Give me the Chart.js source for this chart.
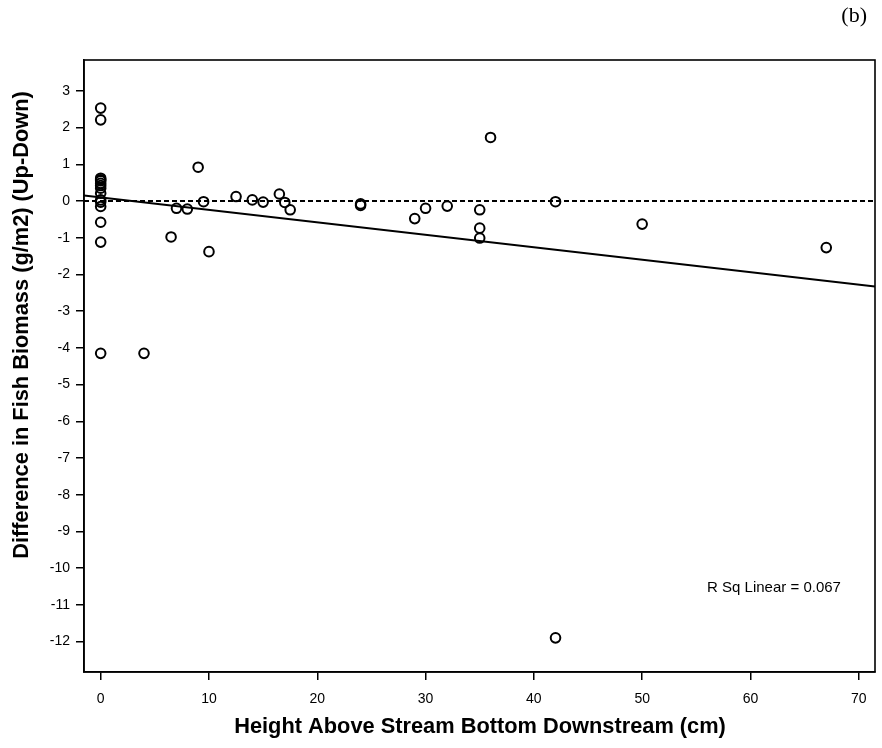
<!DOCTYPE html>
<html><head><meta charset="utf-8">
<script src="https://cdn.jsdelivr.net/npm/chart.js@4.4.0/dist/chart.umd.min.js"></script>
<style>html,body{margin:0;padding:0;background:#fff;} #wrap{width:882px;height:748px;position:relative;}</style>
</head><body><div id="wrap"><canvas id="c" width="882" height="748"></canvas></div>
<script>
// Data
const heightCm = [0,0,0,0,0,0,0,0,0,0,0,0,0,0,0,
  4,6.5,7,8,9,9.5,10,12.5,14,15,16.5,17,17.5,24,24,29,30,32,35,35,35,36,42,42,50,67];
const biomassDiff = [2.53,2.21,0.62,0.55,0.48,0.42,0.35,0.21,0.03,-0.03,-0.15,-0.58,-1.12,-4.15,0.58,
  -4.15,-0.98,-0.2,-0.22,0.92,-0.02,-1.38,0.12,0.03,-0.03,0.19,-0.04,-0.24,-0.08,-0.12,-0.48,-0.2,-0.14,-0.24,-0.74,-1.01,1.73,-0.02,-11.9,-0.63,-1.27];
const xTickValues = [0,10,20,30,40,50,60,70];
const yTickValues = [3,2,1,0,-1,-2,-3,-4,-5,-6,-7,-8,-9,-10,-11,-12];
const xRange = [-1.54, 71.5];
const yRange = [-12.83, 3.84];
const fitIntercept = 0.1;
const fitSlope = -0.034;
const referenceLevel = 0;
const rSqLabel = 'R Sq Linear = 0.067';
const xTitle = 'Height Above Stream Bottom Downstream (cm)';
const yTitle = 'Difference in Fish Biomass (g/m2) (Up-Down)';
const panelLabel = '(b)';

const points = heightCm.map((x, i) => ({x: x, y: biomassDiff[i]}));
const fitLine = [xRange[0], xRange[1]].map(x => ({x: x, y: fitIntercept + fitSlope * x}));
const refLine = [xRange[0], xRange[1]].map(x => ({x: x, y: referenceLevel}));

const decor = {
  id: 'decor',
  afterDraw(chart) {
    const ctx = chart.ctx, a = chart.chartArea;
    ctx.save();
    ctx.strokeStyle = '#000';
    ctx.lineWidth = 1.6;
    ctx.strokeRect(a.left, a.top, a.right - a.left, a.bottom - a.top);
    ctx.fillStyle = '#000';
    ctx.font = 'bold 21.8px "Liberation Sans", Arial, sans-serif';
    ctx.textAlign = 'center';
    ctx.textBaseline = 'middle';
    ctx.fillText(xTitle, 480, 727);
    ctx.save();
    ctx.translate(22, 325);
    ctx.rotate(-Math.PI / 2);
    ctx.fillText(yTitle, 0, 0);
    ctx.restore();
    ctx.font = '15px "Liberation Sans", Arial, sans-serif';
    ctx.fillText(rSqLabel, 774, 588);
    ctx.font = '22px "Liberation Serif", "DejaVu Serif", serif';
    ctx.textAlign = 'right';
    ctx.fillText(panelLabel, 867, 16);
    ctx.restore();
  }
};

new Chart(document.getElementById('c'), {
  type: 'scatter',
  data: {
    datasets: [
      { type: 'line', data: refLine, borderColor: '#000', borderWidth: 2, borderDash: [5, 3], pointRadius: 0, fill: false },
      { type: 'line', data: fitLine, borderColor: '#000', borderWidth: 2, pointRadius: 0, fill: false },
      { data: points, pointRadius: 4.8, pointBorderWidth: 2, borderColor: '#000', backgroundColor: 'rgba(0,0,0,0)', pointStyle: 'circle' }
    ]
  },
  options: {
    responsive: false,
    animation: false,
    devicePixelRatio: 1,
    layout: { padding: { top: 60, right: 7, left: 0, bottom: 0 } },
    plugins: { legend: { display: false }, tooltip: { enabled: false } },
    scales: {
      x: {
        type: 'linear', min: xRange[0], max: xRange[1],
        afterBuildTicks(s) { s.ticks = xTickValues.map(v => ({value: v})); },
        afterFit(s) { s.height = 76; },
        grid: { drawOnChartArea: false, drawTicks: true, tickLength: 8, color: '#000', lineWidth: 1.5 },
        border: { display: true, color: '#000', width: 1.6 },
        ticks: { color: '#000', padding: 11, maxRotation: 0, autoSkip: false, font: { family: '"Liberation Sans", Arial, sans-serif', size: 14 } }
      },
      y: {
        type: 'linear', min: yRange[0], max: yRange[1],
        afterBuildTicks(s) { s.ticks = yTickValues.map(v => ({value: v})); },
        afterFit(s) { s.width = 84; },
        grid: { drawOnChartArea: false, drawTicks: true, tickLength: 8, color: '#000', lineWidth: 1.5 },
        border: { display: true, color: '#000', width: 1.6 },
        ticks: { color: '#000', padding: 6, autoSkip: false, font: { family: '"Liberation Sans", Arial, sans-serif', size: 14 } }
      }
    }
  },
  plugins: [decor]
});
</script></body></html>
